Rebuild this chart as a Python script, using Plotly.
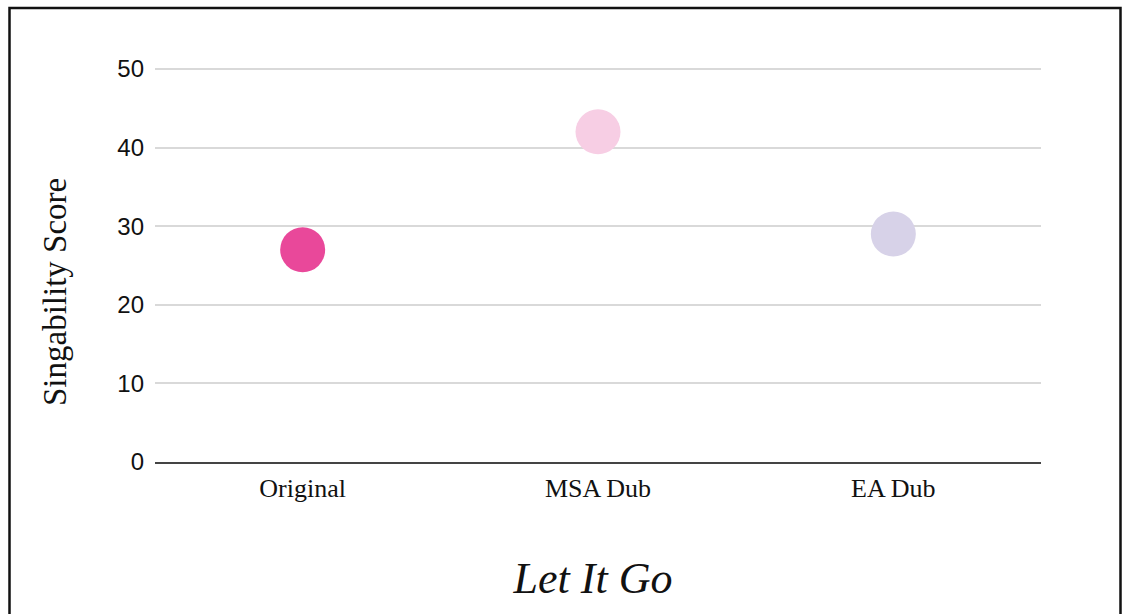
import plotly.graph_objects as go

categories = ["Original", "MSA Dub", "EA Dub"]
scores = [27, 42, 29]
colors = ["#E9489A", "#F7CEE4", "#D7D2E8"]
y_ticks = [0, 10, 20, 30, 40, 50]

W, H = 1122, 614
ML, MR, MT, MB = 155, 81, 65, 152
pw, ph = W - ML - MR, H - MT - MB

fig = go.Figure()
fig.add_trace(go.Scatter(
    x=categories, y=scores, mode="markers",
    marker=dict(size=45, color=colors, line=dict(width=0)),
    cliponaxis=False, showlegend=False,
))

serif = "Liberation Serif, Times New Roman, serif"
sans = "Liberation Sans, Arial, sans-serif"

fig.update_layout(
    width=W, height=H,
    margin=dict(l=ML, r=MR, t=MT, b=MB, autoexpand=False),
    paper_bgcolor="white", plot_bgcolor="white",
    title=dict(text="<i>Let It Go</i>", font=dict(family=serif, size=44, color="#111"),
               xref="paper", x=(593 - ML) / pw, xanchor="center",
               yref="container", y=1 - 578 / H, yanchor="middle"),
    xaxis=dict(type="category", range=[-0.5, 2.5], showgrid=False,
               showline=True, linecolor="#444", linewidth=2,
               ticks="", ticklabelstandoff=2,
               tickfont=dict(family=serif, size=26, color="#111"),
               zeroline=False),
    yaxis=dict(range=[0, 50.5], tickvals=y_ticks, showgrid=True,
               gridcolor="#D9D9D9", gridwidth=1.5, zeroline=False,
               showline=False, ticks="", ticklabelstandoff=10,
               tickfont=dict(family=sans, size=24, color="#111")),
)

fig.add_annotation(text="Singability Score", textangle=-90,
                   xref="paper", yref="paper",
                   x=(55 - ML) / pw, y=(H - MB - 292) / ph,
                   xanchor="center", yanchor="middle", showarrow=False,
                   font=dict(family=serif, size=33, color="#111"))

# outer black frame
fig.add_shape(type="rect", xref="paper", yref="paper",
              x0=(9.5 - ML) / pw, x1=(1120.5 - ML) / pw,
              y0=(H - MB - 640) / ph, y1=(H - MB - 8) / ph,
              line=dict(color="#111", width=2.5), fillcolor="rgba(0,0,0,0)",
              layer="below")

fig.write_html("out.html")
